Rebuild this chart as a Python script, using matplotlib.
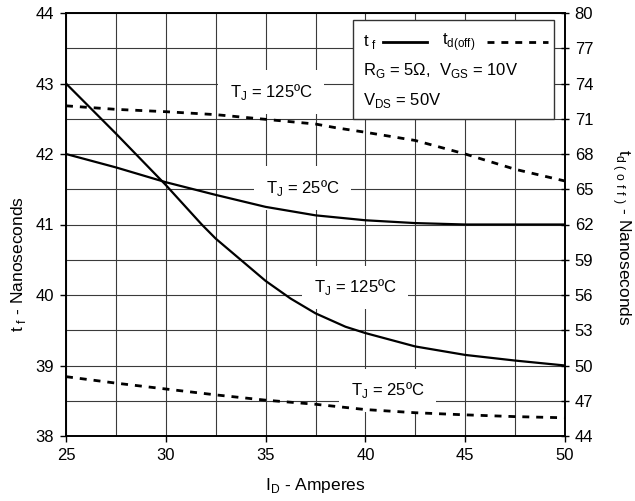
import numpy as np
import matplotlib
matplotlib.use("Agg")
import matplotlib.pyplot as plt
from matplotlib.patches import Rectangle
from matplotlib.lines import Line2D

plt.rcParams['font.family'] = ['Liberation Sans', 'DejaVu Sans']
plt.rcParams['mathtext.fontset'] = 'custom'
plt.rcParams['mathtext.rm'] = 'Liberation Sans'
plt.rcParams['font.size'] = 12

# fall time t_f (left axis, ns)
tf_125_x = [25, 27.5, 30, 31.8, 32.5, 35, 36.25, 37.5, 39, 40, 42.5, 45, 47.5, 50]
tf_125_y = [43.0, 42.29, 41.56, 41.0, 40.80, 40.2, 39.95, 39.74, 39.55, 39.46, 39.27, 39.15, 39.07, 39.0]
tf_25_x = [25, 27.5, 30, 32.5, 35, 37.5, 40, 42.5, 45, 47.5, 50]
tf_25_y = [42.0, 41.81, 41.6, 41.42, 41.25, 41.13, 41.06, 41.02, 41.0, 41.0, 41.0]

# turn-off delay t_d(off) (right axis, ns)
td_125_x = [25, 27.5, 30, 32.5, 35, 37.5, 38.5, 40, 42.5, 45, 47.5, 50]
td_125_y = [72.1, 71.8, 71.6, 71.35, 70.95, 70.55, 70.24, 69.85, 69.15, 68.0, 66.7, 65.7]
td_25_x = [25, 27.5, 30, 32.5, 35, 37.5, 40, 42.5, 45, 47.5, 50]
td_25_y = [49.05, 48.5, 48.0, 47.5, 47.05, 46.7, 46.25, 45.98, 45.8, 45.65, 45.55]

x_ticks = [25, 30, 35, 40, 45, 50]
left_ticks = [38, 39, 40, 41, 42, 43, 44]
right_ticks = list(range(44, 81, 3))

fig = plt.figure(figsize=(6.35, 5.01), dpi=100)
ax = fig.add_axes([66/635, 65/501, 499/635, 423/501])
ax2 = ax.twinx()

ax.set_xlim(25, 50)
ax.set_ylim(38, 44)
ax2.set_ylim(44, 80)

ax.set_xticks(x_ticks)
ax.set_xticks(np.arange(25, 50.1, 2.5), minor=True)
ax.set_yticks(left_ticks)
ax.set_yticks(np.arange(38, 44.1, 0.5), minor=True)
ax2.set_yticks(right_ticks)

ax.grid(which='both', color='#3a3a3a', lw=0.8)
ax.tick_params(which='minor', length=0)
ax.tick_params(which='major', direction='out', length=4.5, width=1, labelsize=12, pad=4)
ax2.tick_params(direction='inout', length=6, width=1, labelsize=12, pad=4)
for a in (ax, ax2):
    for s in a.spines.values():
        s.set_linewidth(1.2)

ax.plot(tf_125_x, tf_125_y, color='black', lw=1.6, zorder=4)
ax.plot(tf_25_x, tf_25_y, color='black', lw=1.6, zorder=4)
ax2.plot(td_125_x, td_125_y, color='black', lw=2, ls=(0, (2.5, 2.5)))
ax2.plot(td_25_x, td_25_y, color='black', lw=2, ls=(0, (2.5, 2.5)))

box = dict(boxstyle='square,pad=0.7', fc='white', ec='none')
ax.text(35.29, 42.88, r'T$_\mathregular{J}$ = 125ºC', ha='center', va='center', bbox=box, zorder=3)
ax.text(36.85, 41.52, r'T$_\mathregular{J}$ = 25ºC', ha='center', va='center', bbox=box, zorder=3)
ax.text(39.5, 40.11, r'T$_\mathregular{J}$ = 125ºC', ha='center', va='center', bbox=box, zorder=3)
ax.text(41.11, 38.65, r'T$_\mathregular{J}$ = 25ºC', ha='center', va='center', bbox=box, zorder=3)

# legend box
ax2.add_patch(Rectangle((0.575, 0.749), 0.403, 0.234, transform=ax2.transAxes,
                        fc='white', ec='#333333', lw=1, zorder=10))
ax2.text(0.595, 0.931, r't$_\mathregular{\ f}$', transform=ax2.transAxes, va='center', zorder=11)
ax2.add_line(Line2D([0.635, 0.723], [0.931, 0.931], transform=ax2.transAxes,
                    color='black', lw=2, zorder=11))
ax2.text(0.753, 0.931, r't$_\mathregular{d(off)}$', transform=ax2.transAxes, va='center', zorder=11)
ax2.add_line(Line2D([0.844, 0.965], [0.931, 0.931], transform=ax2.transAxes,
                    color='black', lw=2, ls=(0, (2.5, 2.5)), zorder=11))
ax2.text(0.595, 0.865, r'R$_\mathregular{G}$ = 5Ω,  V$_\mathregular{GS}$ = 10V',
         transform=ax2.transAxes, va='center', zorder=11)
ax2.text(0.595, 0.794, r'V$_\mathregular{DS}$ = 50V', transform=ax2.transAxes, va='center', zorder=11)

ax.set_xlabel(r'I$_\mathregular{D}$ - Amperes', fontsize=12.5, va='center')
ax.xaxis.set_label_coords(0.5, -0.118)
ax.set_ylabel(r't$_\mathregular{\ f}$ - Nanoseconds', fontsize=12.5, va='center')
ax.yaxis.set_label_coords(-0.096, 0.407)
ax2.set_ylabel(r't$_\mathregular{d\ (\ o\ f\ f\ )}$ - Nanoseconds', fontsize=12.5,
               rotation=270, va='center')
ax2.yaxis.set_label_coords(1.114, 0.47)

fig.savefig('out.png', dpi=100)
